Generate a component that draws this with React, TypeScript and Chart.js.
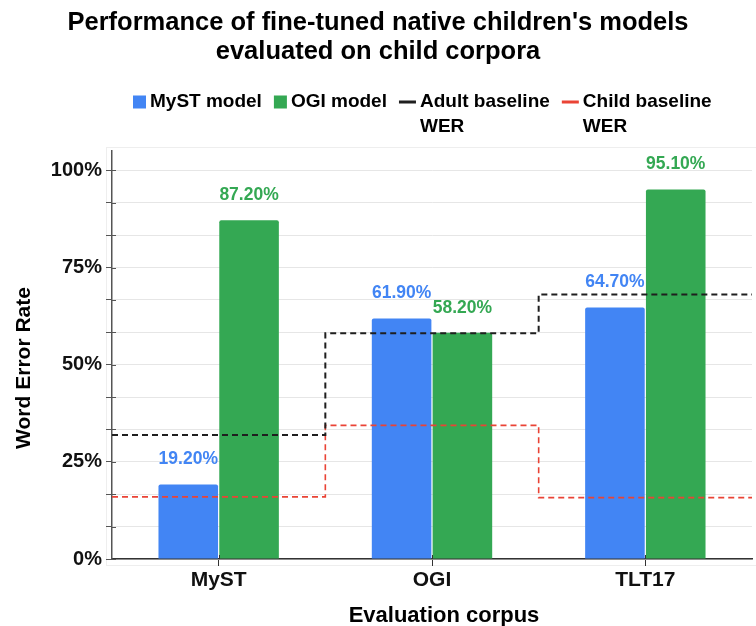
import { useEffect, useRef } from 'react';
import { Chart, registerables } from 'chart.js';

Chart.register(...registerables);

const TITLE_LINES = ["Performance of fine-tuned native children's models", 'evaluated on child corpora'];
const CATEGORIES = ['MyST', 'OGI', 'TLT17'];
const MYST_MODEL = [19.2, 61.9, 64.7];
const OGI_MODEL = [87.2, 58.2, 95.1];
const ADULT_BASELINE = [31.9, 58.1, 68.1];
const CHILD_BASELINE = [16.0, 34.4, 15.8];
const Y_TICK_LABELS = ['0%', '25%', '50%', '75%', '100%'];
const SERIES_NAMES = [['MyST model'], ['OGI model'], ['Adult baseline', 'WER'], ['Child baseline', 'WER']];
const X_TITLE = 'Evaluation corpus';
const Y_TITLE = 'Word Error Rate';

const FONT = '"Liberation Sans", Arial, sans-serif';
const BLUE = '#4285f4';
const GREEN = '#34a853';
const BLACK = '#1f1f1f';
const RED = '#ea4335';

// bars sit on the category index; steps change at the category boundaries
const barData = (vals: number[]) => vals.map((v, i) => ({ x: i, y: v }));
const stepData = (vals: number[]) => [
  ...vals.map((v, i) => ({ x: i - 0.5, y: v })),
  { x: vals.length - 0.5, y: vals[vals.length - 1] },
];

const overlayPlugin = {
  id: 'overlay',
  beforeDraw(chart: any) {
    const { ctx, chartArea } = chart;
    ctx.save();
    ctx.fillStyle = '#ffffff';
    ctx.fillRect(0, 0, chart.width, chart.height);
    ctx.strokeStyle = '#eeeeee';
    ctx.lineWidth = 1;
    ctx.strokeRect(chartArea.left - 5.5, chartArea.top - 3.5, chart.width + 10, chartArea.bottom - chartArea.top + 10);
    ctx.restore();
  },
  afterDatasetsDraw(chart: any) {
    const { ctx, chartArea } = chart;
    ctx.save();
    ctx.strokeStyle = '#555555';
    ctx.lineWidth = 1;
    const ys = chart.scales.y;
    ys.ticks.forEach((t: any) => {
      const py = Math.round(ys.getPixelForValue(t.value)) + 0.5;
      ctx.beginPath();
      ctx.moveTo(chartArea.left, py);
      ctx.lineTo(chartArea.left + 4, py);
      ctx.stroke();
    });
    const xs = chart.scales.x;
    ctx.strokeStyle = '#333333';
    CATEGORIES.forEach((_c, i) => {
      const px = Math.round(xs.getPixelForValue(i)) + 0.5;
      ctx.beginPath();
      ctx.moveTo(px, chartArea.bottom);
      ctx.lineTo(px, chartArea.bottom - 4);
      ctx.stroke();
    });
    ctx.font = `bold 17.5px ${FONT}`;
    ctx.textAlign = 'center';
    ctx.textBaseline = 'middle';
    chart.data.datasets.forEach((ds: any, di: number) => {
      if (ds.type !== 'bar') return;
      const meta = chart.getDatasetMeta(di);
      meta.data.forEach((el: any, i: number) => {
        ctx.fillStyle = ds.backgroundColor;
        ctx.fillText(ds.data[i].y.toFixed(2) + '%', el.x, el.y - 25);
      });
    });
    ctx.restore();
  },
  afterDraw(chart: any) {
    const { ctx, chartArea } = chart;
    ctx.save();
    ctx.fillStyle = '#000000';
    ctx.textBaseline = 'middle';
    ctx.font = `bold 25.5px ${FONT}`;
    ctx.textAlign = 'center';
    TITLE_LINES.forEach((t, i) => ctx.fillText(t, chart.width / 2, 23 + i * 28.5));
    ctx.font = `bold 19px ${FONT}`;
    ctx.textAlign = 'left';
    const colors = [BLUE, GREEN, BLACK, RED];
    let x = 133;
    const y0 = 102;
    SERIES_NAMES.forEach((lines, i) => {
      const isLine = i >= 2;
      const mw = isLine ? 17 : 13;
      ctx.fillStyle = colors[i];
      if (isLine) ctx.fillRect(x, y0 - 1.5, mw, 3);
      else ctx.fillRect(x, y0 - 6.5, mw, 13);
      const tx = x + mw + 4;
      ctx.fillStyle = '#000000';
      let w = 0;
      lines.forEach((l, li) => {
        ctx.fillText(l, tx, y0 + li * 25);
        w = Math.max(w, ctx.measureText(l).width);
      });
      x = tx + w + 12;
    });
    ctx.font = `bold 22px ${FONT}`;
    ctx.textAlign = 'center';
    ctx.fillText(X_TITLE, (chartArea.left + chartArea.right) / 2 + 12, 616);
    ctx.save();
    ctx.font = `bold 21px ${FONT}`;
    ctx.translate(24, (chartArea.top + chartArea.bottom) / 2 + 13);
    ctx.rotate(-Math.PI / 2);
    ctx.fillText(Y_TITLE, 0, 0);
    ctx.restore();
    ctx.restore();
  },
};

export default function App() {
  const ref = useRef<HTMLCanvasElement>(null);
  useEffect(() => {
    if (!ref.current) return;
    const chart = new Chart(ref.current, {
      type: 'bar',
      data: {
        datasets: [
          {
            type: 'line',
            label: SERIES_NAMES[2].join(' '),
            data: stepData(ADULT_BASELINE),
            stepped: true,
            borderColor: BLACK,
            borderWidth: 2,
            borderDash: [6, 4],
            pointRadius: 0,
            fill: false,
          } as any,
          {
            type: 'line',
            label: SERIES_NAMES[3].join(' '),
            data: stepData(CHILD_BASELINE),
            stepped: true,
            borderColor: RED,
            borderWidth: 1.6,
            borderDash: [6, 4],
            pointRadius: 0,
            fill: false,
          } as any,
          {
            type: 'bar',
            label: SERIES_NAMES[0][0],
            data: barData(MYST_MODEL),
            backgroundColor: BLUE,
            borderRadius: { topLeft: 2, topRight: 2, bottomLeft: 0, bottomRight: 0 },
            borderSkipped: false,
            categoryPercentage: 0.57,
            barPercentage: 0.98,
          } as any,
          {
            type: 'bar',
            label: SERIES_NAMES[1][0],
            data: barData(OGI_MODEL),
            backgroundColor: GREEN,
            borderRadius: { topLeft: 2, topRight: 2, bottomLeft: 0, bottomRight: 0 },
            borderSkipped: false,
            categoryPercentage: 0.57,
            barPercentage: 0.98,
          } as any,
        ],
      },
      options: {
        animation: false,
        responsive: true,
        maintainAspectRatio: false,
        layout: { padding: { top: 151, right: 4, left: 0, bottom: 0 } },
        plugins: {
          legend: { display: false },
          title: { display: false },
          tooltip: { enabled: false },
        },
        scales: {
          x: {
            type: 'linear',
            offset: false,
            min: -0.5,
            max: CATEGORIES.length - 0.5,
            afterBuildTicks: (s: any) => {
              s.ticks = CATEGORIES.map((_c, i) => ({ value: i }));
            },
            grid: {
              display: true,
              drawOnChartArea: false,
              drawTicks: true,
              tickLength: 7,
              tickColor: '#333333',
              offset: false,
            },
            border: { color: '#333333', width: 1.5 },
            ticks: {
              font: { size: 21, weight: 'bold', family: FONT },
              color: '#111111',
              padding: 2,
              autoSkip: false,
              maxRotation: 0,
              callback: (v: any) => CATEGORIES[Math.round(Number(v))] ?? '',
            },
            afterFit: (s: any) => {
              s.height = 67;
            },
          },
          y: {
            type: 'linear',
            min: 0,
            max: 105,
            afterBuildTicks: (s: any) => {
              s.ticks = Array.from({ length: (Y_TICK_LABELS.length - 1) * 3 + 1 }, (_, i) => ({ value: (i * 25) / 3 }));
            },
            grid: { color: '#e6e6e6', lineWidth: 1, tickColor: '#555555', tickLength: 6 },
            border: { color: '#555555', width: 1.5 },
            ticks: {
              font: { size: 20, weight: 'bold', family: FONT },
              color: '#111111',
              padding: 4,
              autoSkip: false,
              callback: (_v: any, i: number) => (i % 3 === 0 ? Y_TICK_LABELS[i / 3] : ''),
            },
            afterFit: (s: any) => {
              s.width = 112;
            },
          },
        },
      },
      plugins: [overlayPlugin],
    });
    return () => chart.destroy();
  }, []);
  return (
    <div style={{ position: 'absolute', left: 0, top: 0, width: 756, height: 626, overflow: 'hidden', background: '#fff' }}>
      <canvas ref={ref} />
    </div>
  );
}
